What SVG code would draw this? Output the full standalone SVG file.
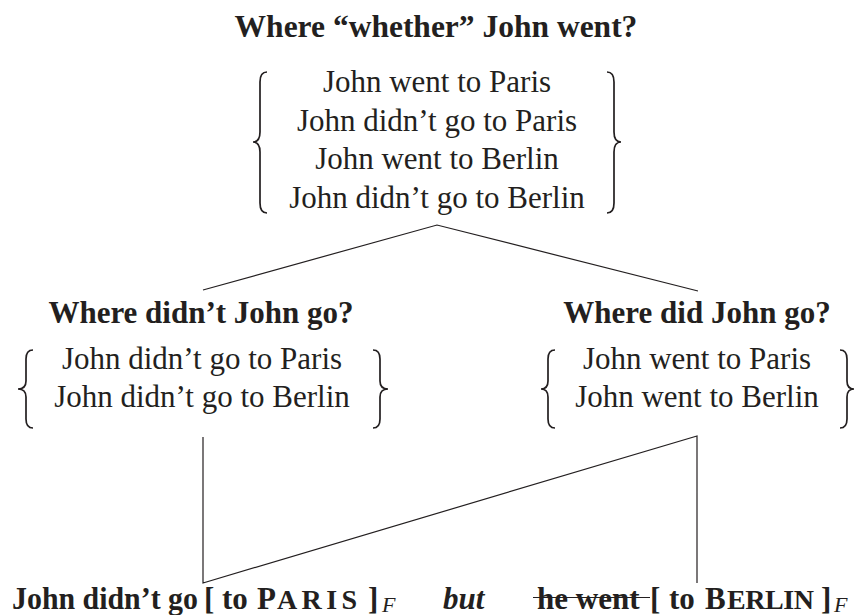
<svg xmlns="http://www.w3.org/2000/svg" width="856" height="615" viewBox="0 0 856 615">
<style>
text{font-family:"Liberation Serif","Tinos","Times New Roman",serif;fill:#231f20;font-size:31px}
.b{font-weight:bold}
.t{font-size:31.5px}
.c{text-anchor:middle}
.br{fill:none;stroke:#231f20;stroke-width:1.7}
.ln{fill:none;stroke:#231f20;stroke-width:1.2}
.sc{font-size:28px}
.sub{font-size:22px;font-style:italic;font-weight:normal}
</style>
<g id="top">
<text class="b c t" x="436" y="37">Where “whether” John went?</text>
<path class="br" d="M267 72 Q260 72 260 82 L260 132 Q260 142 253 142 Q260 142 260 152 L260 203 Q260 213 267 213"/>
<text class="c" x="437" y="92">John went to Paris</text>
<text class="c" x="437" y="130.5">John didn’t go to Paris</text>
<text class="c" x="437" y="169">John went to Berlin</text>
<text class="c" x="437" y="207.5">John didn’t go to Berlin</text>
<path class="br" d="M607 72 Q614 72 614 82 L614 132 Q614 142 621 142 Q614 142 614 152 L614 203 Q614 213 607 213"/>
</g>
<g id="left">
<text class="b c" x="201" y="323">Where didn’t John go?</text>
<path class="br" d="M33 350 Q26 350 26 359 L26 381 Q26 389 18 389 Q26 389 26 397 L26 419 Q26 428 33 428"/>
<text class="c" x="202" y="369">John didn’t go to Paris</text>
<text class="c" x="202" y="407">John didn’t go to Berlin</text>
<path class="br" d="M373 350 Q380 350 380 359 L380 381 Q380 389 388 389 Q380 389 380 397 L380 419 Q380 428 373 428"/>
</g>
<g id="right">
<text class="b c" x="697" y="323">Where did John go?</text>
<path class="br" d="M555 350 Q548 350 548 359 L548 381 Q548 389 541 389 Q548 389 548 397 L548 419 Q548 428 555 428"/>
<text class="c" x="697" y="369">John went to Paris</text>
<text class="c" x="697" y="407">John went to Berlin</text>
<path class="br" d="M840 350 Q847 350 847 359 L847 381 Q847 389 854 389 Q847 389 847 397 L847 419 Q847 428 840 428"/>
</g>
<g id="bottom">
<text class="b" y="609"><tspan x="12" textLength="186" lengthAdjust="spacingAndGlyphs">John didn’t go</tspan><tspan x="204">[</tspan><tspan x="222">to</tspan><tspan x="257">P</tspan><tspan class="sc" x="277" textLength="80" lengthAdjust="spacing">ARIS</tspan><tspan x="368">]</tspan><tspan class="sub" x="382" dy="3">F</tspan></text>
<text class="b" x="443" y="609" font-style="italic">but</text>
<text class="b" y="609"><tspan x="537">he went</tspan><tspan x="650">[</tspan><tspan x="669">to</tspan><tspan x="705">B</tspan><tspan class="sc" x="727" textLength="87" lengthAdjust="spacing">ERLIN</tspan><tspan x="821">]</tspan><tspan class="sub" x="834" dy="3">F</tspan></text>
<line class="ln" x1="533" y1="597.5" x2="650" y2="597.5" stroke-width="1.6"/>
</g>
<g id="connectors">
<polyline class="ln" points="203,290 437,225 698,291"/>
<polyline class="ln" points="203,437 203,583 697,436 697,583"/>
</g>
</svg>
